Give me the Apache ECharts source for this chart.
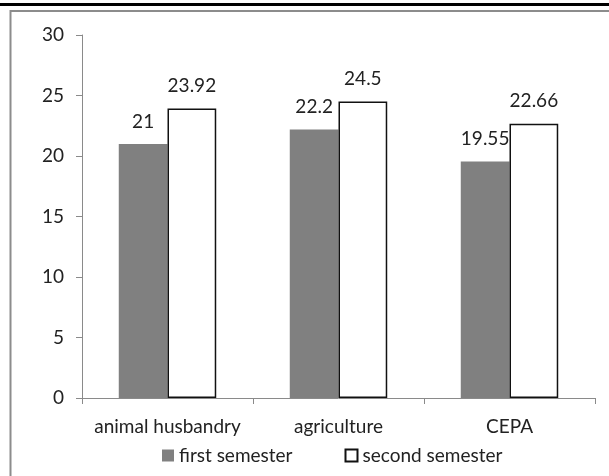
<!DOCTYPE html>
<html>
<head>
<meta charset="utf-8">
<script src="https://cdn.jsdelivr.net/npm/echarts@6/dist/echarts.min.js"></script>
<style>
  html, body { margin: 0; padding: 0; background: #fff; }
  #chart { width: 609px; height: 476px; }
</style>
</head>
<body>
<div id="chart"></div>
<script>
// Categories and semester scores
const categories = ['animal husbandry', 'agriculture', 'CEPA'];
const firstSemester = [21, 22.2, 19.55];
const secondSemester = [23.92, 24.5, 22.66];
const seriesNames = ['first semester', 'second semester'];
const yTicks = { min: 0, max: 30, interval: 5 };

const FONT = 'Lato';
const TEXT = '#222222';
const AXIS = '#8a8a8a';

const chart = echarts.init(document.getElementById('chart'), null, { renderer: 'canvas' });

chart.setOption({
  animation: false,
  backgroundColor: '#ffffff',
  textStyle: { fontFamily: FONT },
  graphic: [
    // dark rule along the top edge
    { type: 'rect', shape: { x: 0, y: 3, width: 609, height: 3 }, style: { fill: '#000' }, silent: true },
    // chart area frame
    { type: 'rect', shape: { x: 10.5, y: 11, width: 640, height: 500 }, style: { fill: 'none', stroke: '#8c8c8c', lineWidth: 2 }, silent: true }
  ],
  grid: { left: 82, top: 35, right: 14, bottom: 78, containLabel: false },
  legend: {
    left: 162,
    top: 446,
    padding: 0,
    itemWidth: 12,
    itemHeight: 12,
    itemGap: 52,
    icon: 'rect',
    textStyle: { fontFamily: FONT, fontSize: 19, color: TEXT },
    data: seriesNames
  },
  xAxis: {
    type: 'category',
    data: categories,
    axisLine: { lineStyle: { color: AXIS, width: 1 } },
    axisTick: { show: true, length: 6, lineStyle: { color: AXIS } },
    axisLabel: { interval: 0, hideOverlap: false, margin: 19, fontFamily: FONT, fontSize: 19, color: TEXT }
  },
  yAxis: {
    type: 'value',
    min: yTicks.min,
    max: yTicks.max,
    interval: yTicks.interval,
    axisLine: { show: true, lineStyle: { color: AXIS, width: 1 } },
    axisTick: { show: true, length: 6, lineStyle: { color: AXIS } },
    splitLine: { show: false },
    axisLabel: { margin: 18, fontFamily: FONT, fontSize: 19, color: TEXT }
  },
  series: [
    {
      name: seriesNames[0],
      type: 'bar',
      data: firstSemester,
      barGap: '0%',
      barCategoryGap: '43%',
      itemStyle: { color: '#808080' },
      label: { show: true, position: 'top', distance: 13, fontFamily: FONT, fontSize: 19, color: TEXT }
    },
    {
      name: seriesNames[1],
      type: 'bar',
      data: secondSemester,
      barGap: '0%',
      barCategoryGap: '43%',
      itemStyle: { color: '#ffffff', borderColor: '#111111', borderWidth: 1.5 },
      label: { show: true, position: 'top', distance: 13, fontFamily: FONT, fontSize: 19, color: TEXT }
    }
  ]
});
</script>
</body>
</html>
